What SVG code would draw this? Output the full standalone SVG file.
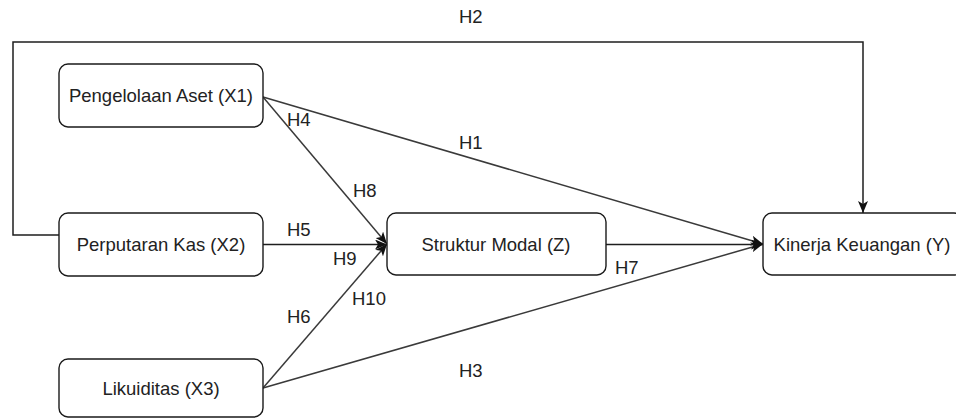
<svg xmlns="http://www.w3.org/2000/svg" width="956" height="419" viewBox="0 0 956 419">
  <style>
    .node rect { fill: #ffffff; stroke: #1a1a1a; stroke-width: 1.4; }
    .node text, .lbl { font-family: "Liberation Sans", Arial, sans-serif; font-size: 18.5px; fill: #222; }
    .node text { text-anchor: middle; }
    .edge { fill: none; stroke: #1e1e1e; stroke-width: 1.5; }
    .diag { stroke: #3a3a3a; }
  </style>
  <defs>
    <marker id="arr" viewBox="0 0 12 10" markerWidth="12" markerHeight="10" refX="12" refY="5" orient="auto" markerUnits="userSpaceOnUse">
      <path d="M0,0 L12,5 L0,10 L3,5 z" fill="#111"/>
    </marker>
  </defs>
  <rect x="0" y="0" width="956" height="419" fill="#ffffff"/>

  <g id="connectors">
    <path class="edge" d="M59,235 H13 V42 H863 V213" marker-end="url(#arr)"/>
    <line class="edge diag" x1="263" y1="97" x2="763" y2="244" marker-end="url(#arr)"/>
    <line class="edge diag" x1="263" y1="97" x2="387" y2="244" marker-end="url(#arr)"/>
    <line class="edge" x1="263" y1="244.5" x2="387" y2="244.5" marker-end="url(#arr)"/>
    <line class="edge diag" x1="263" y1="388" x2="387" y2="244" marker-end="url(#arr)"/>
    <line class="edge diag" x1="263" y1="388" x2="763" y2="244" marker-end="url(#arr)"/>
    <line class="edge" x1="606" y1="244.5" x2="763" y2="244.5" marker-end="url(#arr)"/>
  </g>

  <g id="labels">
    <text class="lbl" x="459" y="23">H2</text>
    <text class="lbl" x="459" y="149">H1</text>
    <text class="lbl" x="287" y="126">H4</text>
    <text class="lbl" x="353" y="197">H8</text>
    <text class="lbl" x="287" y="236">H5</text>
    <text class="lbl" x="333" y="265">H9</text>
    <text class="lbl" x="352" y="305">H10</text>
    <text class="lbl" x="287" y="323">H6</text>
    <text class="lbl" x="615" y="274">H7</text>
    <text class="lbl" x="459" y="377">H3</text>
  </g>

  <g id="x1" class="node">
    <rect x="59" y="64" width="204" height="63" rx="9"/>
    <text x="161" y="102">Pengelolaan Aset (X1)</text>
  </g>
  <g id="x2" class="node">
    <rect x="59" y="213" width="204" height="63" rx="9"/>
    <text x="161" y="251">Perputaran Kas (X2)</text>
  </g>
  <g id="x3" class="node">
    <rect x="59" y="359" width="204" height="58" rx="9"/>
    <text x="161" y="395">Likuiditas (X3)</text>
  </g>
  <g id="z" class="node">
    <rect x="387" y="213" width="219" height="62" rx="9"/>
    <text x="496" y="251">Struktur Modal (Z)</text>
  </g>
  <g id="y" class="node">
    <rect x="763" y="213" width="200" height="62" rx="9"/>
    <text x="862" y="251">Kinerja Keuangan (Y)</text>
  </g>
</svg>
